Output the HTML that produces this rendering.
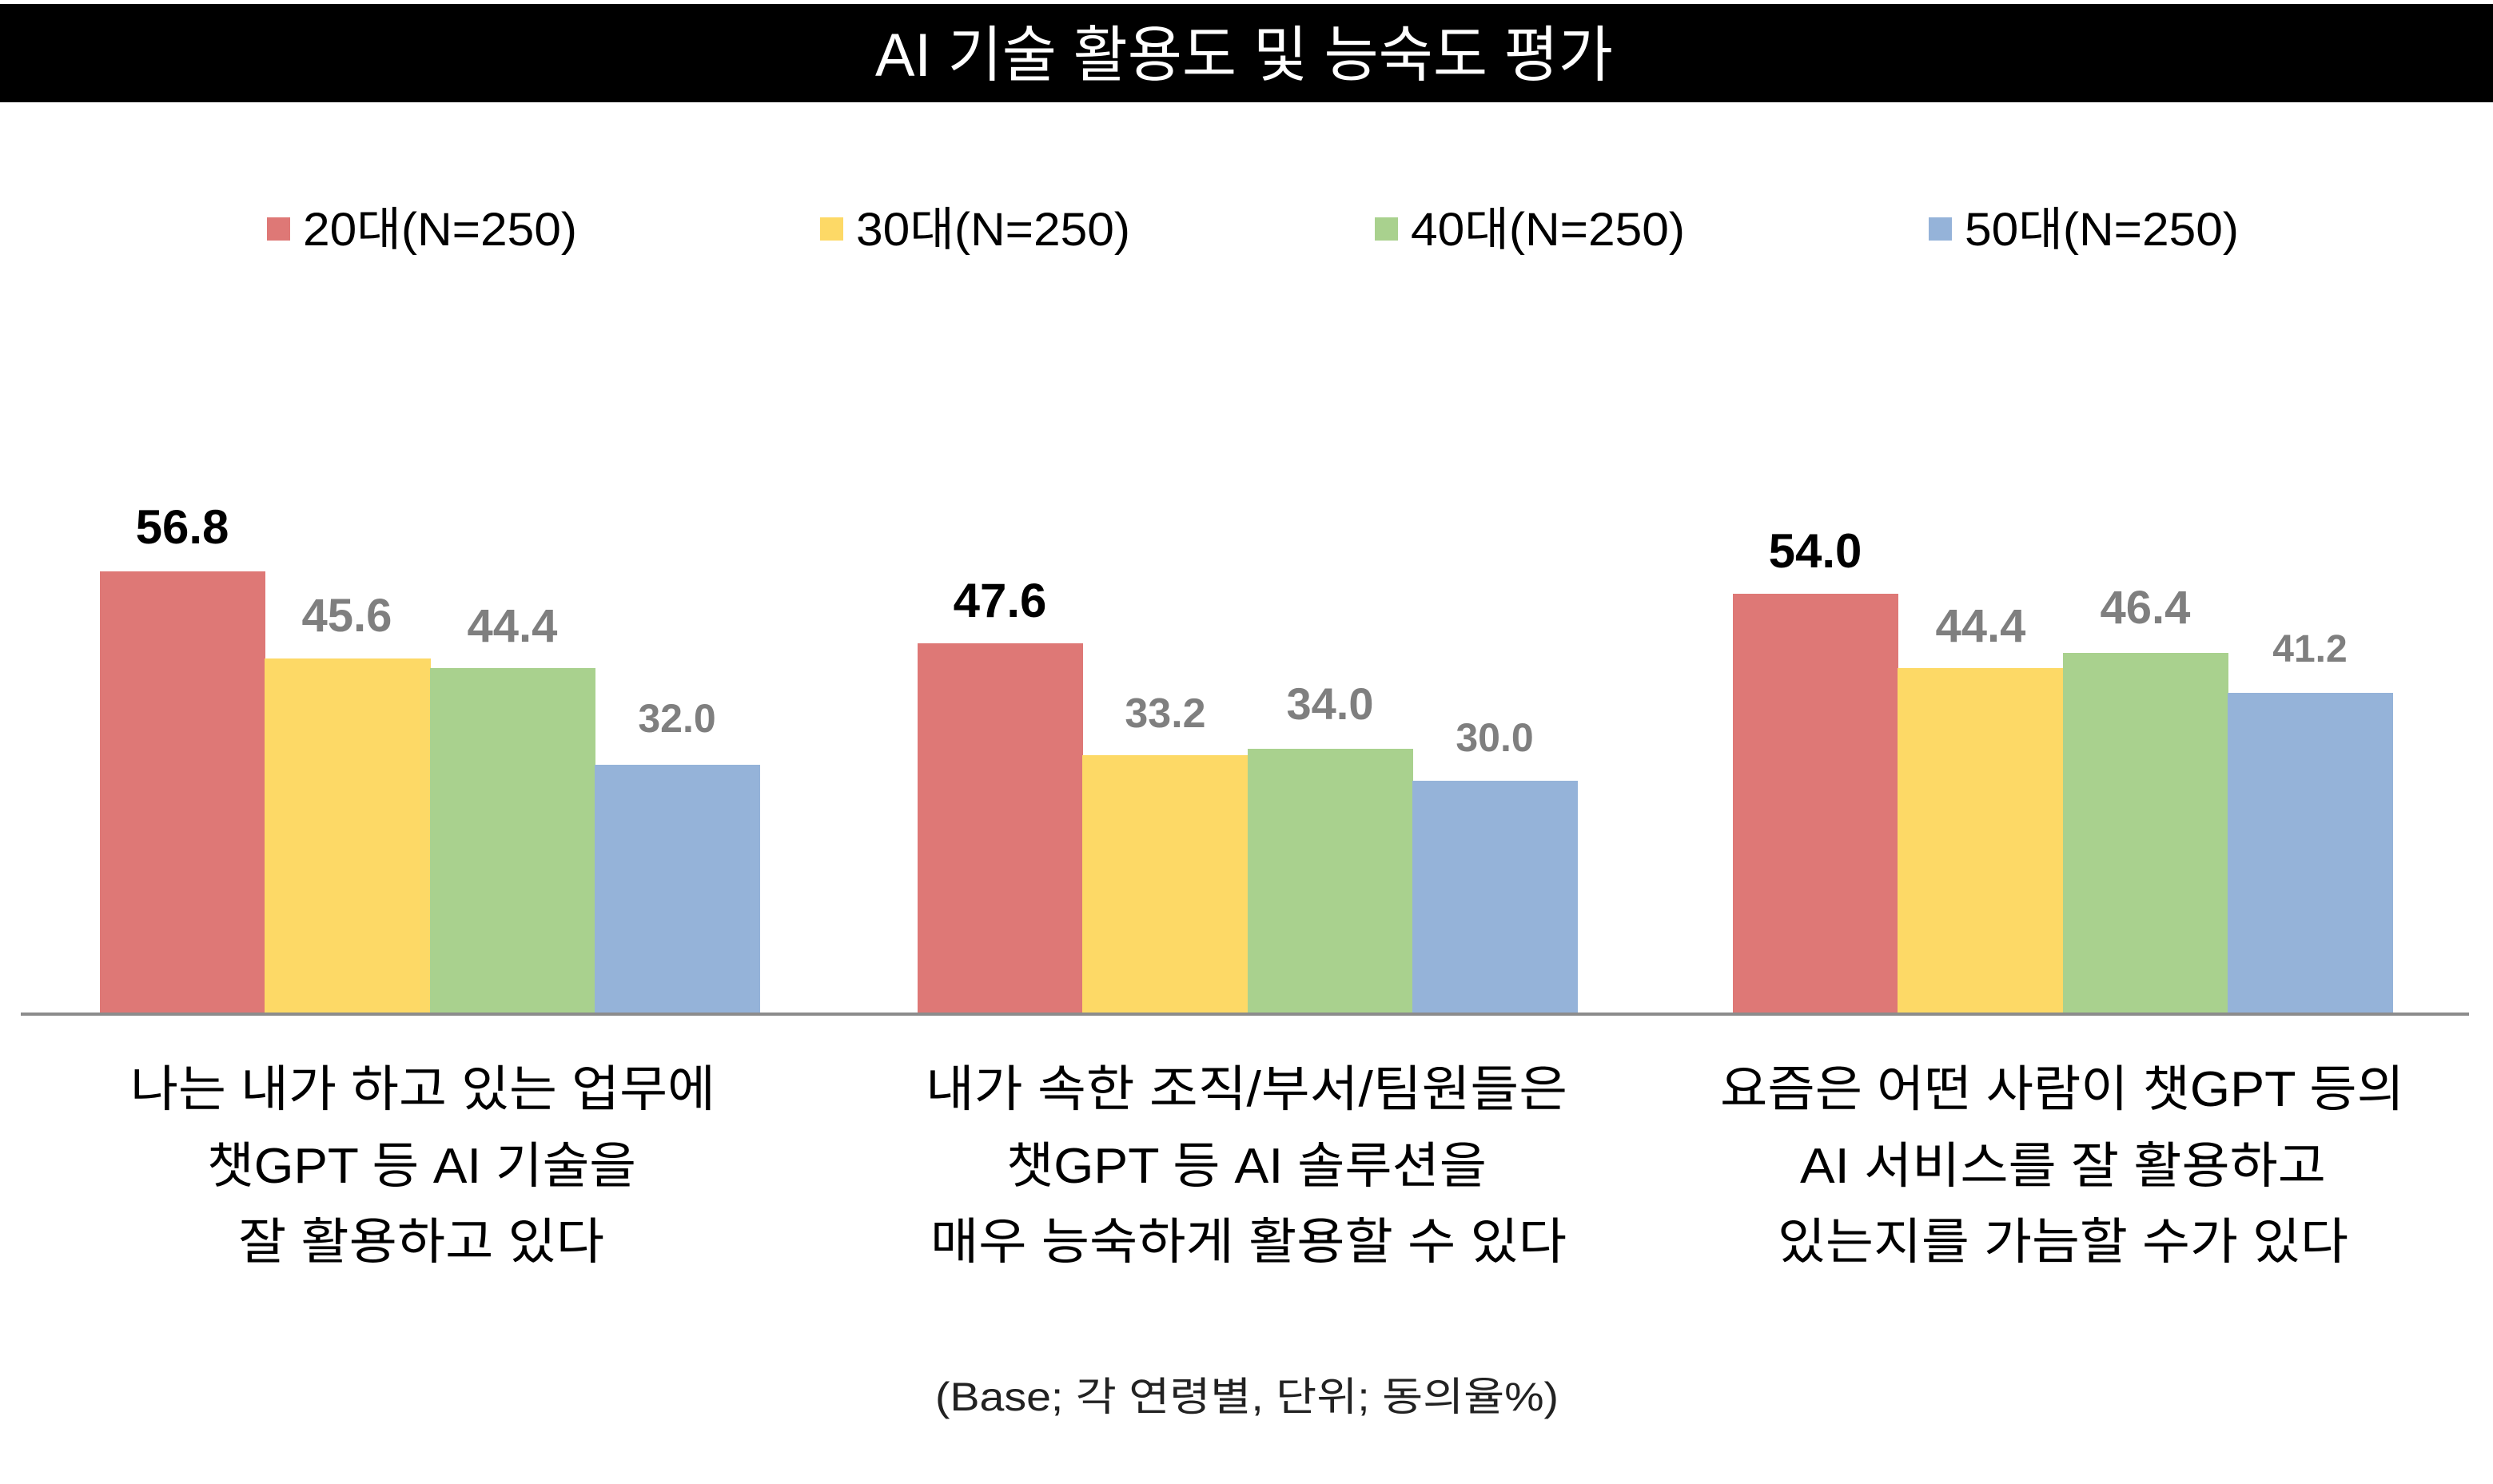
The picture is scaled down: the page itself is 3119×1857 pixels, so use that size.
<!DOCTYPE html>
<html><head><meta charset="utf-8"><style>
html,body{margin:0;padding:0;background:#fff;}
svg{display:block;}
text{font-family:"Liberation Sans","Noto Sans CJK KR","NanumGothic",sans-serif;}
</style></head><body>
<svg width="3119" height="1857" viewBox="0 0 3119 1857" xmlns="http://www.w3.org/2000/svg">
<rect x="0" y="0" width="3119" height="1857" fill="#fff"/>
<rect x="0" y="5" width="3119" height="123" fill="#000"/>
<text x="1095" y="95" font-size="76" fill="#fff" textLength="923" lengthAdjust="spacingAndGlyphs">AI 기술 활용도 및 능숙도 평가</text>

<rect x="334" y="272" width="29" height="29" fill="#DE7876"/>
<text x="379" y="307" font-size="58" fill="#000" textLength="343" lengthAdjust="spacingAndGlyphs">20대(N=250)</text>
<rect x="1026" y="272" width="29" height="29" fill="#FDD966"/>
<text x="1071" y="307" font-size="58" fill="#000" textLength="343" lengthAdjust="spacingAndGlyphs">30대(N=250)</text>
<rect x="1720" y="272" width="29" height="29" fill="#A9D18E"/>
<text x="1765" y="307" font-size="58" fill="#000" textLength="343" lengthAdjust="spacingAndGlyphs">40대(N=250)</text>
<rect x="2413" y="272" width="29" height="29" fill="#95B3D9"/>
<text x="2458" y="307" font-size="58" fill="#000" textLength="343" lengthAdjust="spacingAndGlyphs">50대(N=250)</text>

<rect x="125" y="715" width="207" height="554" fill="#DE7876"/>
<rect x="331" y="824" width="208" height="445" fill="#FDD966"/>
<rect x="538" y="836" width="207" height="433" fill="#A9D18E"/>
<rect x="744" y="957" width="207" height="312" fill="#95B3D9"/>
<rect x="1148" y="805" width="207" height="464" fill="#DE7876"/>
<rect x="1354" y="945" width="208" height="324" fill="#FDD966"/>
<rect x="1561" y="937" width="207" height="332" fill="#A9D18E"/>
<rect x="1767" y="977" width="207" height="292" fill="#95B3D9"/>
<rect x="2168" y="743" width="207" height="526" fill="#DE7876"/>
<rect x="2374" y="836" width="208" height="433" fill="#FDD966"/>
<rect x="2581" y="817" width="207" height="452" fill="#A9D18E"/>
<rect x="2787" y="867" width="207" height="402" fill="#95B3D9"/>

<rect x="26" y="1267" width="3063" height="4" fill="#8C8C8C"/>

<g font-weight="bold" text-anchor="middle">
<text x="228" y="680" font-size="60" fill="#000">56.8</text>
<text x="434" y="790" font-size="58" fill="#7F7F7F">45.6</text>
<text x="641" y="803" font-size="58" fill="#7F7F7F">44.4</text>
<text x="847" y="916" font-size="50" fill="#7F7F7F">32.0</text>

<text x="1251" y="772" font-size="60" fill="#000">47.6</text>
<text x="1458" y="910" font-size="52" fill="#7F7F7F">33.2</text>
<text x="1664" y="900" font-size="56" fill="#7F7F7F">34.0</text>
<text x="1870" y="940" font-size="50" fill="#7F7F7F">30.0</text>

<text x="2271" y="710" font-size="60" fill="#000">54.0</text>
<text x="2478" y="803" font-size="58" fill="#7F7F7F">44.4</text>
<text x="2684" y="780" font-size="58" fill="#7F7F7F">46.4</text>
<text x="2890" y="828" font-size="48" fill="#7F7F7F">41.2</text>
</g>

<g font-size="62" fill="#000">
<text x="163" y="1384" textLength="732" lengthAdjust="spacingAndGlyphs">나는 내가 하고 있는 업무에</text>
<text x="259" y="1480" textLength="537" lengthAdjust="spacingAndGlyphs">챗GPT 등 AI 기술을</text>
<text x="298" y="1575" textLength="458" lengthAdjust="spacingAndGlyphs">잘 활용하고 있다</text>

<text x="1158" y="1384" textLength="803" lengthAdjust="spacingAndGlyphs">내가 속한 조직/부서/팀원들은</text>
<text x="1259" y="1480" textLength="601" lengthAdjust="spacingAndGlyphs">챗GPT 등 AI 솔루션을</text>
<text x="1164" y="1575" textLength="796" lengthAdjust="spacingAndGlyphs">매우 능숙하게 활용할 수 있다</text>

<text x="2152" y="1384" textLength="856" lengthAdjust="spacingAndGlyphs">요즘은 어떤 사람이 챗GPT 등의</text>
<text x="2252" y="1480" textLength="658" lengthAdjust="spacingAndGlyphs">AI 서비스를 잘 활용하고</text>
<text x="2224" y="1575" textLength="714" lengthAdjust="spacingAndGlyphs">있는지를 가늠할 수가 있다</text>
</g>

<text x="1170" y="1765" font-size="50" fill="#222" textLength="780" lengthAdjust="spacingAndGlyphs">(Base; 각 연령별, 단위; 동의율%)</text>
</svg>
</body></html>
